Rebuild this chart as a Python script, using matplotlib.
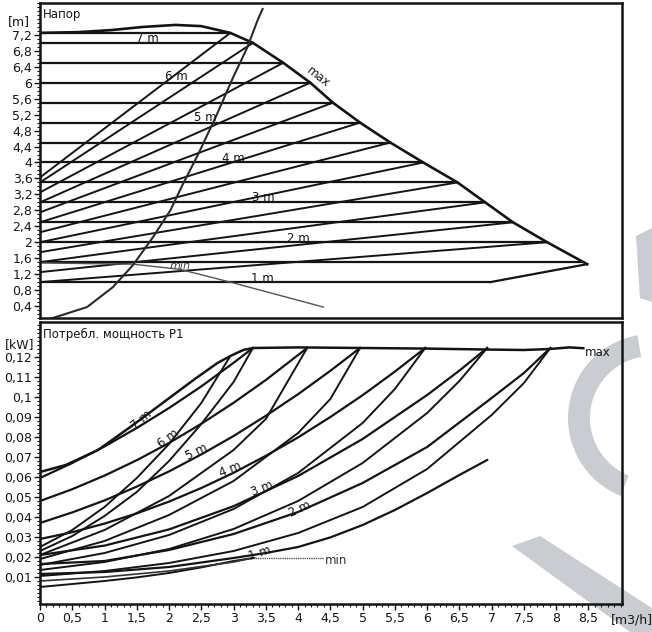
import matplotlib
matplotlib.use("Agg")
import matplotlib.pyplot as plt
from matplotlib.ticker import FixedLocator, MultipleLocator
from matplotlib.patches import Wedge, Polygon

# ---------------- data: head panel (Напор) ----------------
q_max = [0, 0.6, 1.1, 1.6, 2.1, 2.5, 2.95, 3.30, 3.77, 4.19, 4.54, 4.96, 5.43, 5.94, 6.47, 6.90, 7.33, 7.86, 8.48]
h_max = [7.25, 7.27, 7.32, 7.40, 7.45, 7.42, 7.25, 7.0, 6.5, 6.0, 5.5, 5.0, 4.5, 4.0, 3.5, 3.0, 2.5, 2.0, 1.45]

h_levels = [7.25, 7.0, 6.5, 6.0, 5.5, 5.0, 4.5, 4.0, 3.5, 3.0, 2.5, 2.0, 1.5, 1.0]
q_level_end = [2.95, 3.30, 3.77, 4.19, 4.54, 4.96, 5.43, 5.94, 6.47, 6.90, 7.33, 7.86, 8.42, 6.98]

prop_h_end = [7.25, 7.0, 6.5, 6.0, 5.5, 5.0, 4.5, 4.0, 3.5, 3.0, 2.5, 2.0]
prop_h_start = [3.625, 3.5, 3.25, 3.0, 2.75, 2.5, 2.25, 2.0, 1.75, 1.5, 1.25, 1.0]
prop_q_end = [2.95, 3.30, 3.77, 4.19, 4.54, 4.96, 5.43, 5.94, 6.47, 6.90, 7.33, 7.86]

q_low_edge = [6.98, 8.48]
h_low_edge = [1.0, 1.45]

q_min_h = [0, 1.44, 2.17, 2.95, 4.39]
h_min_h = [1.48, 1.45, 1.32, 1.0, 0.375]

q_sys = [0.20, 0.73, 1.13, 1.44, 1.75, 2.02, 2.22, 2.45, 2.74, 2.99, 3.21, 3.38, 3.45]
h_sys = [0.1, 0.375, 0.875, 1.425, 2.125, 2.8, 3.475, 4.2, 5.2, 6.125, 6.875, 7.6, 7.85]

h_ticks = [0.4, 0.8, 1.2, 1.6, 2.0, 2.4, 2.8, 3.2, 3.6, 4.0, 4.4, 4.8, 5.2, 5.6, 6.0, 6.4, 6.8, 7.2]
h_ticklabels = ["0,4", "0,8", "1,2", "1,6", "2", "2,4", "2,8", "3,2", "3,6", "4", "4,4", "4,8",
                "5,2", "5,6", "6", "6,4", "6,8", "7,2"]

head_labels = ["7 m", "6 m", "5 m", "4 m", "3 m", "2 m", "1 m"]
head_label_q = [1.67, 2.12, 2.56, 2.99, 3.46, 4.0, 3.44]
head_label_h = [7.12, 6.15, 5.12, 4.1, 3.12, 2.1, 1.1]

# ---------------- data: power panel (P1) ----------------
q_pmax = [0, 0.4, 0.9, 1.4, 1.9, 2.4, 2.75, 2.95, 3.15, 3.3, 4.0, 5.0, 6.0, 7.0, 7.5, 7.9, 8.2, 8.42]
p_pmax = [0.0625, 0.066, 0.0735, 0.085, 0.097, 0.109, 0.117, 0.1205, 0.1235, 0.1245, 0.1248, 0.1245,
          0.1242, 0.1237, 0.1235, 0.124, 0.1248, 0.1244]

pc_q = {
    "7": [0, 0.5, 1.0, 1.5, 2.0, 2.5, 3.0, 3.3],
    "6": [0, 0.5, 1.0, 1.5, 2.0, 2.5, 3.0, 3.5, 4.14],
    "5": [0, 0.5, 1.0, 1.5, 2.0, 2.5, 3.0, 3.5, 4.0, 4.5, 4.96],
    "4": [0, 0.5, 1.0, 1.5, 2.0, 2.5, 3.0, 3.5, 4.0, 4.5, 5.0, 5.5, 5.97],
    "3": [0, 1, 2, 3, 4, 5, 6, 6.5, 6.93],
    "2": [0, 1, 2, 3, 4, 5, 6, 7, 7.5, 7.91],
    "1": [0, 1, 2, 3, 3.5, 4, 4.5, 5, 5.5, 6, 6.5, 6.93],
}
pc_p = {
    "7": [0.0595, 0.0670, 0.0753, 0.0845, 0.0945, 0.1053, 0.1171, 0.1245],
    "6": [0.048, 0.0539, 0.0607, 0.0684, 0.0770, 0.0866, 0.0971, 0.1085, 0.1245],
    "5": [0.037, 0.0423, 0.0483, 0.0552, 0.0628, 0.0713, 0.0805, 0.0906, 0.1014, 0.1131, 0.1245],
    "4": [0.029, 0.0324, 0.0367, 0.0418, 0.0477, 0.0545, 0.0621, 0.0706, 0.0798, 0.0900, 0.1009, 0.1127, 0.1245],
    "3": [0.021, 0.0257, 0.0338, 0.0454, 0.0605, 0.0790, 0.1010, 0.1132, 0.1245],
    "2": [0.0165, 0.018, 0.0235, 0.0315, 0.0425, 0.057, 0.075, 0.0995, 0.112, 0.1245],
    "1": [0.0115, 0.0125, 0.015, 0.0195, 0.022, 0.025, 0.0298, 0.036, 0.0435, 0.052, 0.061, 0.0685],
}
pp_q = {
    "7.25": [0, 0.5, 1.0, 1.5, 2.0, 2.5, 2.95],
    "7": [0, 0.5, 1.0, 1.5, 2.0, 2.5, 3.0, 3.3],
    "6": [0, 1, 2, 3, 3.5, 4.14],
    "5": [0, 1, 2, 3, 4, 4.5, 4.96],
    "4": [0, 1, 2, 3, 4, 5, 5.5, 5.97],
    "3": [0, 1, 2, 3, 4, 5, 6, 6.5, 6.93],
    "2": [0, 1, 2, 3, 4, 5, 6, 7, 7.5, 7.91],
}
pp_p = {
    "7.25": [0.025, 0.0335, 0.045, 0.0595, 0.0765, 0.097, 0.1205],
    "7": [0.023, 0.0305, 0.0405, 0.0525, 0.068, 0.0865, 0.1075, 0.1245],
    "6": [0.021, 0.0335, 0.0505, 0.0735, 0.089, 0.1245],
    "5": [0.019, 0.028, 0.041, 0.058, 0.082, 0.099, 0.1245],
    "4": [0.016, 0.022, 0.031, 0.044, 0.062, 0.087, 0.104, 0.1245],
    "3": [0.0135, 0.0175, 0.024, 0.034, 0.048, 0.067, 0.092, 0.108, 0.1245],
    "2": [0.0105, 0.013, 0.017, 0.023, 0.032, 0.045, 0.064, 0.091, 0.107, 0.1245],
}
q_pmin = [0, 0.5, 1.0, 1.5, 2.0, 2.5, 3.0, 3.3]
p_pmin = [0.005, 0.0065, 0.008, 0.0098, 0.012, 0.0148, 0.018, 0.0195]
q_pmin2 = [0, 1.0, 2.0, 3.0, 3.3]
p_pmin2 = [0.008, 0.010, 0.013, 0.0175, 0.0195]
q_pmin_flat = [3.3, 4.4]
p_pmin_flat = [0.0195, 0.0195]

p_ticks = [0.01, 0.02, 0.03, 0.04, 0.05, 0.06, 0.07, 0.08, 0.09, 0.10, 0.11, 0.12]
p_ticklabels = ["0,01", "0,02", "0,03", "0,04", "0,05", "0,06", "0,07", "0,08", "0,09", "0,1", "0,11", "0,12"]
q_ticks = [0, 0.5, 1, 1.5, 2, 2.5, 3, 3.5, 4, 4.5, 5, 5.5, 6, 6.5, 7, 7.5, 8, 8.5]
q_ticklabels = ["0", "0,5", "1", "1,5", "2", "2,5", "3", "3,5", "4", "4,5", "5", "5,5", "6", "6,5",
                "7", "7,5", "8", "8,5"]

power_labels = ["7 m", "6 m", "5 m", "4 m", "3 m", "2 m", "1 m"]
power_label_q = [1.58, 1.99, 2.43, 2.95, 3.45, 4.02, 3.40]
power_label_p = [0.0885, 0.0795, 0.0725, 0.0640, 0.0540, 0.0440, 0.0220]
power_label_rot = [40, 36, 26, 22, 22, 25, 18]

# ---------------- figure ----------------
plt.rcParams['font.family'] = ['DejaVu Sans']
W, H = 652, 632
fig = plt.figure(figsize=(W / 100, H / 100), dpi=100)
fig.patch.set_facecolor("white")

# faint scanned watermark behind the chart (pixel coordinates, y up)
bg = fig.add_axes([0, 0, 1, 1], zorder=-5)
bg.set_xlim(0, W)
bg.set_ylim(0, H)
bg.axis("off")
WM = "#c9cdd2"
bg.add_patch(Wedge((652, 214), 84, 100, 248, width=22, facecolor=WM, edgecolor="none"))
bg.add_patch(Polygon([(512, 86), (540, 96), (652, 24), (652, 0), (630, 0)], closed=True,
                     facecolor=WM, edgecolor="none"))
bg.add_patch(Polygon([(636, 396), (652, 404), (652, 330), (640, 334)], closed=True,
                     facecolor=WM, edgecolor="none"))

ax1 = fig.add_axes([40 / W, 1 - 318 / H, 582 / W, 315 / H])
ax2 = fig.add_axes([40 / W, 1 - 604 / H, 582 / W, 282 / H])

K = "#141414"
LW = 1.6

# head panel
for h, qe in zip(h_levels, q_level_end):
    ax1.plot([0, qe], [h, h], color=K, lw=LW, solid_capstyle="butt")
for hs, he, qe in zip(prop_h_start, prop_h_end, prop_q_end):
    ax1.plot([0, qe], [hs, he], color=K, lw=1.4)
ax1.plot(q_max, h_max, color=K, lw=1.9)
ax1.plot(q_low_edge, h_low_edge, color=K, lw=LW)
ax1.plot(q_min_h, h_min_h, color="#555555", lw=1.0)
ax1.plot(q_sys, h_sys, color="#2a2a2a", lw=1.5)

for t, x, y in zip(head_labels, head_label_q, head_label_h):
    ax1.text(x, y, t, fontsize=8.5, ha="center", va="center", color=K)
ax1.text(2.17, 1.40, "min", fontsize=8, ha="center", va="center", color="#444444", style="italic")
ax1.text(4.31, 6.15, "max", fontsize=8.5, ha="center", va="center", color=K, rotation=-38)
ax1.text(0.05, 7.72, "Напор", fontsize=8.5, ha="left", va="center", color=K)

ax1.set_xlim(0, 9.02)
ax1.set_ylim(0.1, 8.0)
ax1.yaxis.set_major_locator(FixedLocator(h_ticks))
ax1.set_yticklabels(h_ticklabels)
ax1.yaxis.set_minor_locator(MultipleLocator(0.1))
ax1.set_xticks([])

# power panel
ax2.plot(q_pmax, p_pmax, color=K, lw=1.8)
for k in pc_q:
    ax2.plot(pc_q[k], pc_p[k], color=K, lw=LW)
for k in pp_q:
    ax2.plot(pp_q[k], pp_p[k], color=K, lw=1.4)
ax2.plot(q_pmin, p_pmin, color=K, lw=1.4)
ax2.plot(q_pmin2, p_pmin2, color="#333333", lw=1.2)
ax2.plot(q_pmin_flat, p_pmin_flat, color="#555555", lw=1.0, ls=(0, (1, 0.6)))

for t, x, y, r in zip(power_labels, power_label_q, power_label_p, power_label_rot):
    ax2.text(x, y, t, fontsize=8.5, ha="center", va="center", color=K, rotation=r)
ax2.text(8.45, 0.1225, "max", fontsize=8.5, ha="left", va="center", color=K)
ax2.text(4.42, 0.0185, "min", fontsize=8.5, ha="left", va="center", color="#333333")
ax2.text(0.05, 0.1315, "Потребл. мощность P1", fontsize=8.5, ha="left", va="center", color=K)

ax2.set_xlim(0, 9.02)
ax2.set_ylim(-0.0035, 0.1375)
ax2.yaxis.set_major_locator(FixedLocator(p_ticks))
ax2.set_yticklabels(p_ticklabels)
ax2.yaxis.set_minor_locator(MultipleLocator(0.002))
ax2.xaxis.set_major_locator(FixedLocator(q_ticks))
ax2.set_xticklabels(q_ticklabels)
ax2.xaxis.set_minor_locator(MultipleLocator(0.1))

for ax in (ax1, ax2):
    for s in ax.spines.values():
        s.set_linewidth(1.8)
        s.set_color(K)
    ax.tick_params(axis="both", which="major", direction="out", length=4, width=1.0,
                   labelsize=9, colors=K, pad=1.5)
    ax.tick_params(axis="both", which="minor", direction="out", length=2.5, width=0.8, colors=K)
    ax.set_facecolor("none")

fig.text(19 / W, 1 - 22 / H, "[m]", fontsize=9, ha="center", va="center", color=K)
fig.text(20 / W, 1 - 345 / H, "[kW]", fontsize=9, ha="center", va="center", color=K)
fig.text(632 / W, 1 - 620 / H, "[m3/h]", fontsize=9, ha="center", va="center", color=K)

fig.savefig("out.png", dpi=100, facecolor="white")
